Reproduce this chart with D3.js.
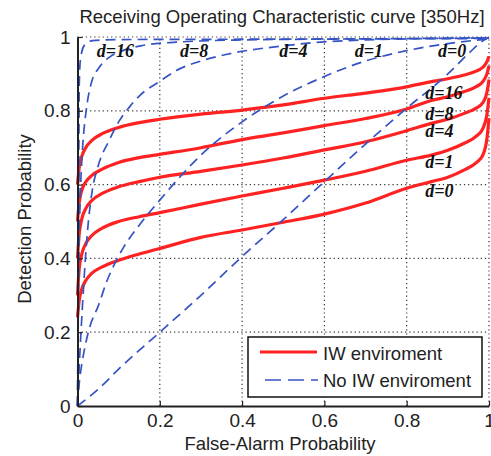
<!DOCTYPE html>
<html>
<head>
<meta charset="utf-8">
<script src="https://cdn.jsdelivr.net/npm/d3@7/dist/d3.min.js"></script>
<style>
  body { margin: 0; background: #fff; }
  text { font-family: "Liberation Sans", Arial, sans-serif; fill: #222; }
  .dlab { font-family: "Liberation Serif", "Times New Roman", serif; font-weight: bold; font-style: italic; fill: #111; }
</style>
</head>
<body>
<div id="my_dataviz"></div>
<script>
// ticks
var ticks = [0, 0.2, 0.4, 0.6, 0.8, 1]

var redFa = [0, 0.004, 0.01, 0.02, 0.035, 0.06, 0.1, 0.15, 0.2, 0.3, 0.4, 0.5, 0.6, 0.7, 0.8, 0.86, 0.9, 0.94, 0.97, 0.985, 0.995, 1.0]
var redD16 = [0.60, 0.645, 0.675, 0.70, 0.72, 0.738, 0.755, 0.768, 0.777, 0.791, 0.802, 0.816, 0.834, 0.848, 0.865, 0.879, 0.887, 0.897, 0.908, 0.918, 0.933, 0.948]
var redD8 = [0.50, 0.55, 0.583, 0.607, 0.625, 0.642, 0.66, 0.673, 0.682, 0.70, 0.722, 0.74, 0.76, 0.779, 0.805, 0.828, 0.838, 0.852, 0.866, 0.879, 0.90, 0.922]
var redD4 = [0.40, 0.465, 0.505, 0.535, 0.557, 0.576, 0.594, 0.608, 0.62, 0.636, 0.653, 0.672, 0.694, 0.716, 0.746, 0.766, 0.777, 0.793, 0.808, 0.822, 0.85, 0.885]
var redD1 = [0.30, 0.37, 0.41, 0.44, 0.462, 0.482, 0.50, 0.513, 0.524, 0.547, 0.569, 0.59, 0.612, 0.636, 0.666, 0.68, 0.693, 0.712, 0.732, 0.752, 0.79, 0.835]
var redD0 = [0.24, 0.285, 0.315, 0.34, 0.36, 0.377, 0.395, 0.412, 0.427, 0.457, 0.477, 0.498, 0.52, 0.55, 0.59, 0.608, 0.62, 0.64, 0.66, 0.68, 0.725, 0.78]

// No IW enviroment (blue dashed), [false alarm, detection] pairs
var blueD16 = [[0, 0], [0.002, 0.3], [0.003, 0.6], [0.004, 0.85], [0.006, 0.925], [0.01, 0.958], [0.017, 0.978], [0.037, 0.99], [0.1, 0.993], [0.4, 0.994], [0.7, 0.995], [1, 0.996]]
var blueD8 = [[0, 0], [0.002, 0.3], [0.004, 0.45], [0.007, 0.58], [0.01, 0.655], [0.013, 0.71], [0.021, 0.8], [0.033, 0.873], [0.053, 0.918], [0.077, 0.945], [0.11, 0.963], [0.158, 0.977], [0.24, 0.986], [0.4, 0.992], [0.7, 0.995], [1, 0.997]]
var blueD4 = [[0, 0], [0.003, 0.08], [0.007, 0.17], [0.012, 0.27], [0.018, 0.38], [0.024, 0.47], [0.036, 0.585], [0.05, 0.65], [0.077, 0.72], [0.1, 0.77], [0.126, 0.81], [0.15, 0.84], [0.2, 0.88], [0.24, 0.909], [0.3, 0.935], [0.38, 0.957], [0.5, 0.976], [0.6, 0.987], [0.7, 0.992], [0.85, 0.996], [1, 0.998]]
var blueD1 = [[0, 0], [0.005, 0.07], [0.01, 0.11], [0.02, 0.17], [0.03, 0.215], [0.05, 0.27], [0.072, 0.34], [0.095, 0.396], [0.113, 0.432], [0.15, 0.49], [0.2, 0.558], [0.3, 0.68], [0.4, 0.77], [0.5, 0.84], [0.6, 0.893], [0.7, 0.935], [0.8, 0.963], [0.9, 0.982], [1, 0.995]]
var blueD0 = [[0, 0], [0.05, 0.045], [0.1, 0.1], [0.2, 0.2], [0.3, 0.3], [0.4, 0.405], [0.5, 0.505], [0.6, 0.608], [0.7, 0.71], [0.8, 0.807], [0.9, 0.9], [0.95, 0.955], [0.985, 0.99], [1, 1]]

// d labels (text + anchor in data units)
var topLabels = ["d=16", "d=8", "d=4", "d=1", "d=0"]
var topLabelX = [0.047, 0.249, 0.49, 0.674, 0.876]
var topLabelY = 0.946
var rightLabels = ["d=16", "d=8", "d=4", "d=1", "d=0"]
var rightLabelX = 0.845
var rightLabelY = [0.832, 0.775, 0.729, 0.645, 0.566]

var legendNames = ["IW enviroment", "No IW enviroment"]

var W = 491, H = 456
var plotL = 77.5, plotR = 489, plotT = 37, plotB = 406
var red = "#ff2222", blue = "#3553c4"

var svg = d3.select("#my_dataviz").append("svg").attr("width", W).attr("height", H)

var xs = d3.scaleLinear().domain([0, 1]).range([plotL, plotR])
var ys = d3.scaleLinear().domain([0, 1]).range([plotB, plotT])

// dotted grid
var grid = svg.append("g").attr("stroke", "#333").attr("stroke-width", 1.2).attr("stroke-dasharray", "1.2,3")
grid.selectAll(".gx").data(ticks.slice(1)).enter().append("line")
  .attr("x1", d => xs(d)).attr("x2", d => xs(d)).attr("y1", ys(0)).attr("y2", ys(1))
grid.selectAll(".gy").data(ticks.slice(1)).enter().append("line")
  .attr("x1", xs(0)).attr("x2", xs(1)).attr("y1", d => ys(d)).attr("y2", d => ys(d))

var line = d3.line().x(d => xs(d[0])).y(d => ys(d[1])).curve(d3.curveMonotoneX)

var redSeries = [redD16, redD8, redD4, redD1, redD0].map(function (vals) {
  return redFa.map(function (f, i) { return [f, vals[i]] })
})
svg.append("g").selectAll("path").data(redSeries).enter().append("path")
  .attr("d", line).attr("fill", "none").attr("stroke", red).attr("stroke-width", 3.2)

svg.append("g").selectAll("path").data([blueD16, blueD8, blueD4, blueD1, blueD0]).enter().append("path")
  .attr("d", line).attr("fill", "none").attr("stroke", blue).attr("stroke-width", 1.7)
  .attr("stroke-dasharray", "10,6")

// axes (left and bottom only, inward ticks)
svg.append("g")
  .attr("transform", "translate(0," + plotB + ")")
  .call(d3.axisBottom(xs).tickValues(ticks).tickFormat(d3.format("")).tickSizeInner(-5).tickSizeOuter(0).tickPadding(8))
  .call(g => g.select(".domain").attr("stroke", "#222").attr("stroke-width", 2))
  .call(g => g.selectAll(".tick line").attr("stroke", "#222").attr("stroke-width", 1.2))
  .call(g => g.selectAll(".tick text").attr("font-size", 19).attr("fill", "#222").attr("font-family", "Liberation Sans, Arial, sans-serif"))

svg.append("g")
  .attr("transform", "translate(" + plotL + ",0)")
  .call(d3.axisLeft(ys).tickValues(ticks).tickFormat(d3.format("")).tickSizeInner(-5).tickSizeOuter(0).tickPadding(7))
  .call(g => g.select(".domain").attr("stroke", "#222").attr("stroke-width", 2))
  .call(g => g.selectAll(".tick line").attr("stroke", "#222").attr("stroke-width", 1.2))
  .call(g => g.selectAll(".tick text").attr("font-size", 19).attr("fill", "#222").attr("font-family", "Liberation Sans, Arial, sans-serif"))

// titles
svg.append("text").attr("x", 282).attr("y", 23).attr("text-anchor", "middle").attr("font-size", 18.5)
  .text("Receiving Operating Characteristic curve [350Hz]")
svg.append("text").attr("x", 280).attr("y", 450).attr("text-anchor", "middle").attr("font-size", 18.5)
  .text("False-Alarm Probability")
svg.append("text").attr("transform", "translate(31,219) rotate(-90)").attr("text-anchor", "middle").attr("font-size", 18.5)
  .text("Detection Probability")

// d= annotations
svg.append("g").selectAll("text").data(topLabels).enter().append("text")
  .attr("class", "dlab").attr("font-size", 18)
  .attr("x", (d, i) => xs(topLabelX[i])).attr("y", ys(topLabelY)).text(d => d)
svg.append("g").selectAll("text").data(rightLabels).enter().append("text")
  .attr("class", "dlab").attr("font-size", 18)
  .attr("x", xs(rightLabelX)).attr("y", (d, i) => ys(rightLabelY[i])).text(d => d)

// legend
var lg = svg.append("g").attr("transform", "translate(248,337)")
lg.append("rect").attr("width", 234).attr("height", 60).attr("fill", "#fff").attr("stroke", "#111").attr("stroke-width", 1.5)
lg.append("line").attr("x1", 12).attr("x2", 69).attr("y1", 15).attr("y2", 15).attr("stroke", red).attr("stroke-width", 3.2)
lg.append("line").attr("x1", 17).attr("x2", 70).attr("y1", 43).attr("y2", 43).attr("stroke", blue).attr("stroke-width", 1.7).attr("stroke-dasharray", "16,7")
lg.selectAll(".lt").data(legendNames).enter().append("text")
  .attr("x", 75).attr("y", (d, i) => i == 0 ? 23 : 50).attr("font-size", 18.5).text(d => d)
</script>
</body>
</html>
